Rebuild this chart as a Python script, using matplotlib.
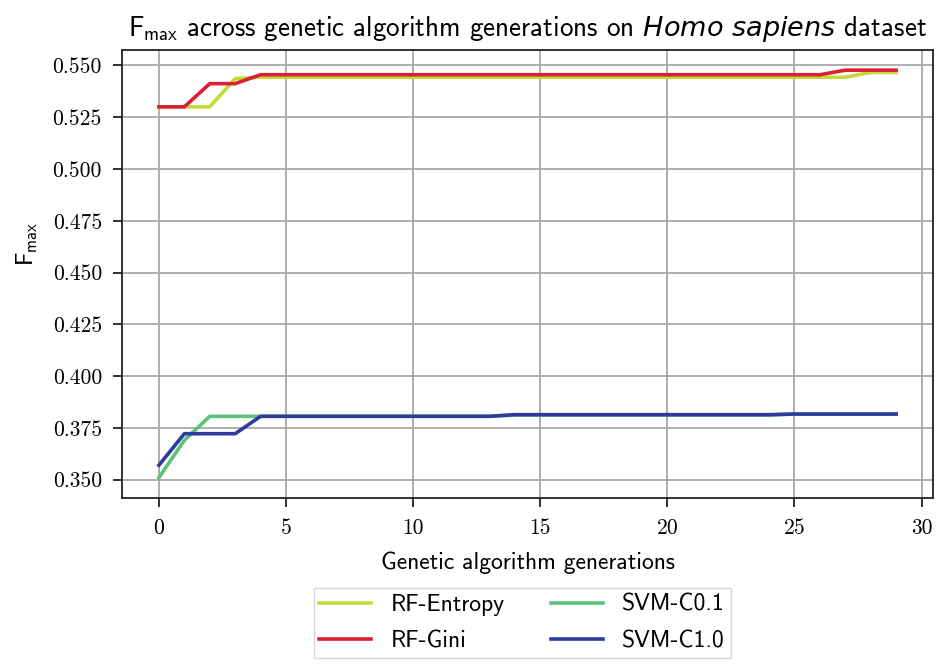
import numpy as np
import matplotlib
matplotlib.use("Agg")
import matplotlib.pyplot as plt

generations = list(range(30))

rf_entropy = [0.530, 0.530, 0.530, 0.5436] + [0.5443] * 24 + [0.5466, 0.5466]
rf_gini = [0.530, 0.530, 0.5412, 0.5412] + [0.5455] * 23 + [0.5477, 0.5477, 0.5477]
svm_c01 = [0.351, 0.369, 0.3806, 0.3806, 0.3806] + [0.3806] * 9 + [0.3812] * 11 + [0.3817] * 5
svm_c10 = [0.357, 0.3722, 0.3722, 0.3722, 0.3806] + [0.3806] * 9 + [0.3814] * 11 + [0.3817] * 5

series = [("RF-Entropy", rf_entropy, "#c5d93a"),
          ("RF-Gini", rf_gini, "#dc1f32"),
          ("SVM-C0.1", svm_c01, "#5cc27a"),
          ("SVM-C1.0", svm_c10, "#2b3c9e")]

plt.rcParams["mathtext.fontset"] = "custom"
plt.rcParams["mathtext.rm"] = "cmss10"
plt.rcParams["mathtext.it"] = "DejaVu Sans:italic"
plt.rcParams["axes.formatter.use_mathtext"] = True

fig = plt.figure(figsize=(9.41, 6.64), dpi=100)
ax = fig.add_axes([0.1297, 0.25, 0.8618, 0.675])

lines = []
for name, vals, col in series:
    ln, = ax.plot(generations, vals, color=col, lw=2.6, label=name)
    lines.append(ln)

ax.grid(True, color="#a8a8a8", lw=1.3)
ax.set_axisbelow(True)
ax.set_yticks([0.350, 0.375, 0.400, 0.425, 0.450, 0.475, 0.500, 0.525, 0.550])
ax.set_yticklabels(["%.3f" % v for v in ax.get_yticks()], fontfamily="cmr10", fontsize=15.5)
ax.set_xticks([0, 5, 10, 15, 20, 25, 30])
ax.set_xticklabels(["0", "5", "10", "15", "20", "25", "30"], fontfamily="cmr10", fontsize=15.5)
ax.tick_params(length=6.5, width=1.3, color="#222222", pad=8)
for s in ax.spines.values():
    s.set_linewidth(1.3)
    s.set_color("#222222")

ax.set_xlabel("Genetic algorithm generations", fontfamily="cmss10", fontsize=17, labelpad=10)
ax.set_ylabel(r"F$_{\mathrm{max}}$", fontfamily="cmss10", fontsize=17)
ax.yaxis.set_label_coords(-0.101, 0.567)
ax.set_title(r"F$_{\mathrm{max}}$ across genetic algorithm generations on $\mathit{Homo\ sapiens}$ dataset",
             fontfamily="cmss10", fontsize=19.5, pad=10)

fig.legend(handles=lines, loc="upper center", bbox_to_anchor=(0.555, 0.1145), ncol=2,
           prop={"family": "cmss10", "size": 17}, frameon=True, fancybox=False,
           edgecolor="#cccccc", handlelength=2.2, columnspacing=2.0, borderpad=0.25,
           borderaxespad=0, labelspacing=0.6)

fig.savefig("out.png", dpi=100)
